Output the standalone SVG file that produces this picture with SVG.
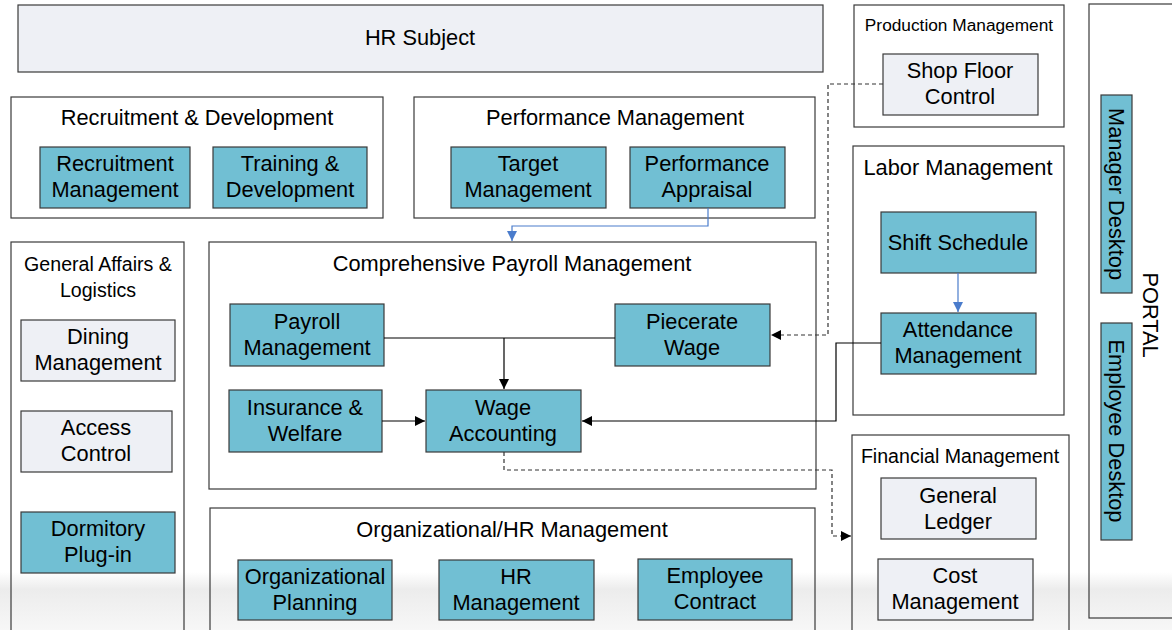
<svg xmlns="http://www.w3.org/2000/svg" width="1172" height="630" viewBox="0 0 1172 630">
<style>
text{font-family:"Liberation Sans",Arial,sans-serif;font-size:21.8px;fill:#000;text-anchor:middle}
.cont{fill:none;stroke:#3a3a3a;stroke-width:1.2}
.blue{fill:#71bfd3;stroke:#3a3a3a;stroke-width:1.2}
.light{fill:#eef0f5;stroke:#3a3a3a;stroke-width:1.2}
.t19{font-size:19.6px}
.t17{font-size:17.3px}
.ln{fill:none;stroke:#000;stroke-width:1.2}
.dash{fill:none;stroke:#333;stroke-width:1.2;stroke-dasharray:4 3}
.bl{fill:none;stroke:#4a7ccc;stroke-width:1.2}
</style>
<defs>
<marker id="ah" viewBox="0 0 10 10" refX="10" refY="5" markerWidth="10" markerHeight="10" markerUnits="userSpaceOnUse" orient="auto"><path d="M0,0 L10,5 L0,10 z" fill="#000"/></marker>
<marker id="ahb" viewBox="0 0 10 10" refX="10" refY="5" markerWidth="10" markerHeight="10" markerUnits="userSpaceOnUse" orient="auto"><path d="M0,0 L10,5 L0,10 z" fill="#4a7ccc"/></marker>
<linearGradient id="fade" x1="0" y1="0" x2="0" y2="1">
<stop offset="0" stop-color="#ffffff"/>
<stop offset="0.3" stop-color="#ececec"/>
<stop offset="1" stop-color="#f7f7f7"/>
</linearGradient>
</defs>
<rect x="0" y="0" width="1172" height="630" fill="#fff"/>
<rect x="0" y="572" width="1172" height="58" fill="url(#fade)"/>

<g id="hr-subject">
<rect x="18" y="5" width="805" height="67" class="light"/>
<text x="420" y="45">HR Subject</text>
</g>

<g id="recruitment-development">
<rect x="11" y="97" width="372" height="121" class="cont"/>
<text x="197" y="125">Recruitment &amp; Development</text>
<g id="recruitment-management">
<rect x="40" y="147" width="150" height="61" class="blue"/>
<text x="115" y="171">Recruitment</text><text x="115" y="197">Management</text>
</g>
<g id="training-development">
<rect x="213" y="147" width="154" height="61" class="blue"/>
<text x="290" y="171">Training &amp;</text><text x="290" y="197">Development</text>
</g>
</g>

<g id="performance-management">
<rect x="414" y="97" width="401" height="121" class="cont"/>
<text x="615" y="125">Performance Management</text>
<g id="target-management">
<rect x="451" y="147" width="155" height="61" class="blue"/>
<text x="528" y="171">Target</text><text x="528" y="197">Management</text>
</g>
<g id="performance-appraisal">
<rect x="630" y="147" width="155" height="61" class="blue"/>
<text x="707" y="171">Performance</text><text x="707" y="197">Appraisal</text>
</g>
</g>

<g id="production-management">
<rect x="854" y="5" width="210" height="122" class="cont"/>
<text x="959" y="31" class="t17">Production Management</text>
<g id="shop-floor-control">
<rect x="883" y="54" width="155" height="61" class="light"/>
<text x="960" y="78">Shop Floor</text><text x="960" y="104">Control</text>
</g>
</g>

<g id="portal">
<rect x="1089" y="4" width="90" height="614" class="cont"/>
<text transform="translate(1143,315) rotate(90)">PORTAL</text>
<g id="manager-desktop">
<rect x="1101" y="95" width="31" height="198" class="blue"/>
<text transform="translate(1109,194) rotate(90)">Manager Desktop</text>
</g>
<g id="employee-desktop">
<rect x="1101" y="323" width="31" height="217" class="blue"/>
<text transform="translate(1109,431) rotate(90)">Employee Desktop</text>
</g>
</g>

<g id="labor-management">
<rect x="853" y="146" width="211" height="269" class="cont"/>
<text x="958" y="175">Labor Management</text>
<g id="shift-schedule">
<rect x="881" y="212" width="155" height="61" class="blue"/>
<text x="958" y="250">Shift Schedule</text>
</g>
<g id="attendance-management">
<rect x="881" y="313" width="155" height="61" class="blue"/>
<text x="958" y="337">Attendance</text><text x="958" y="363">Management</text>
</g>
</g>

<g id="general-affairs">
<rect x="11" y="242" width="173" height="400" class="cont"/>
<text x="98" y="271" class="t19">General Affairs &amp;</text>
<text x="98" y="297" class="t19">Logistics</text>
<g id="dining-management">
<rect x="21" y="320" width="154" height="61" class="light"/>
<text x="98" y="344">Dining</text><text x="98" y="370">Management</text>
</g>
<g id="access-control">
<rect x="21" y="411" width="151" height="61" class="light"/>
<text x="96" y="435">Access</text><text x="96" y="461">Control</text>
</g>
<g id="dormitory-plugin">
<rect x="21" y="512" width="154" height="61" class="blue"/>
<text x="98" y="536">Dormitory</text><text x="98" y="562">Plug-in</text>
</g>
</g>

<g id="comprehensive-payroll">
<rect x="209" y="242" width="607" height="247" class="cont"/>
<text x="512" y="271">Comprehensive Payroll Management</text>
<g id="payroll-management">
<rect x="230" y="304" width="154" height="62" class="blue"/>
<text x="307" y="329">Payroll</text><text x="307" y="355">Management</text>
</g>
<g id="piecerate-wage">
<rect x="615" y="304" width="155" height="62" class="blue"/>
<text x="692" y="329">Piecerate</text><text x="692" y="355">Wage</text>
</g>
<g id="insurance-welfare">
<rect x="229" y="390" width="153" height="62" class="blue"/>
<text x="305" y="415">Insurance &amp;</text><text x="305" y="441">Welfare</text>
</g>
<g id="wage-accounting">
<rect x="426" y="390" width="155" height="62" class="blue"/>
<text x="503" y="415">Wage</text><text x="503" y="441">Accounting</text>
</g>
</g>

<g id="organizational-hr">
<rect x="210" y="508" width="605" height="134" class="cont"/>
<text x="512" y="537">Organizational/HR Management</text>
<g id="organizational-planning">
<rect x="238" y="560" width="154" height="60" class="blue"/>
<text x="315" y="584">Organizational</text><text x="315" y="610">Planning</text>
</g>
<g id="hr-management">
<rect x="439" y="560" width="155" height="60" class="blue"/>
<text x="516" y="584">HR</text><text x="516" y="610">Management</text>
</g>
<g id="employee-contract">
<rect x="638" y="559" width="154" height="61" class="blue"/>
<text x="715" y="583">Employee</text><text x="715" y="609">Contract</text>
</g>
</g>

<g id="financial-management">
<rect x="852" y="435" width="217" height="207" class="cont"/>
<text x="960" y="463" class="t19">Financial Management</text>
<g id="general-ledger">
<rect x="881" y="478" width="155" height="61" class="light"/>
<text x="958" y="503">General</text><text x="958" y="529">Ledger</text>
</g>
<g id="cost-management">
<rect x="878" y="559" width="155" height="61" class="light"/>
<text x="955" y="583">Cost</text><text x="955" y="609">Management</text>
</g>
</g>

<g id="connectors">
<path d="M708,208 V226 H512 V241" class="bl" marker-end="url(#ahb)"/>
<path d="M958,273 V312" class="bl" marker-end="url(#ahb)"/>
<path d="M384,338 H615" class="ln"/>
<path d="M504,338 V389" class="ln" marker-end="url(#ah)"/>
<path d="M382,421 H425" class="ln" marker-end="url(#ah)"/>
<path d="M881,343 H836 V421 H582" class="ln" marker-end="url(#ah)"/>
<path d="M883,84 H828 V335 H771" class="dash" marker-end="url(#ah)"/>
<path d="M504,452 V470 H832 V536 H851" class="dash" marker-end="url(#ah)"/>
</g>
</svg>
